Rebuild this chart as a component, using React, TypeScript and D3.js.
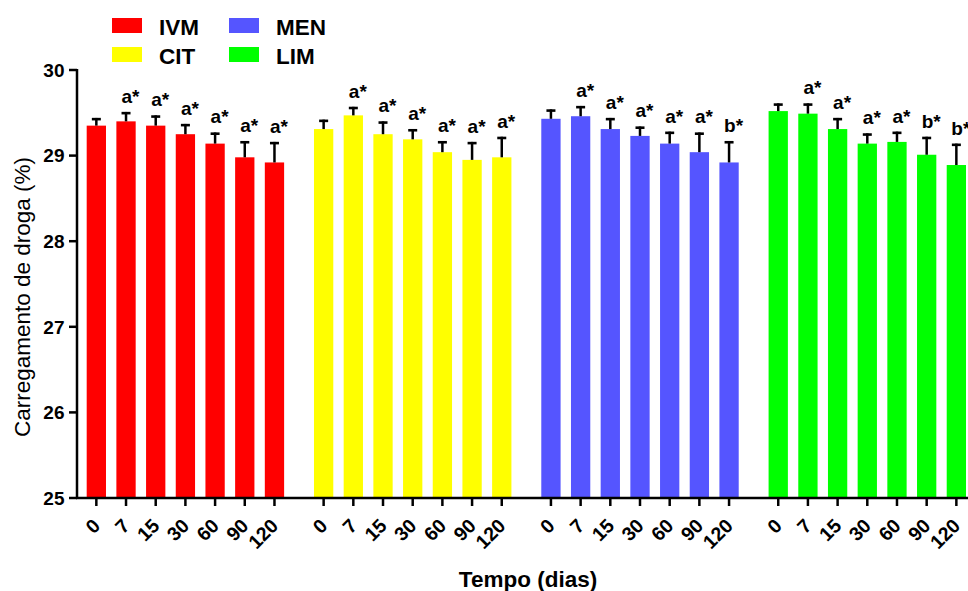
import React from "react";
import * as d3 from "d3";

const groups = ["IVM", "CIT", "MEN", "LIM"];
const days = ["0", "7", "15", "30", "60", "90", "120"];
const colors = ["#FF0000", "#FFFF00", "#5555FF", "#00FF00"];

const ivmMean = [29.35, 29.40, 29.35, 29.25, 29.14, 28.98, 28.92];
const ivmSd = [0.09, 0.11, 0.12, 0.12, 0.13, 0.19, 0.24];
const citMean = [29.31, 29.47, 29.25, 29.19, 29.04, 28.95, 28.98];
const citSd = [0.11, 0.10, 0.15, 0.12, 0.13, 0.21, 0.24];
const menMean = [29.43, 29.46, 29.31, 29.23, 29.14, 29.04, 28.92];
const menSd = [0.11, 0.12, 0.13, 0.11, 0.14, 0.23, 0.25];
const limMean = [29.52, 29.49, 29.31, 29.14, 29.16, 29.01, 28.89];
const limSd = [0.09, 0.12, 0.13, 0.12, 0.12, 0.21, 0.25];

const ivmLabels = ["", "a*", "a*", "a*", "a*", "a*", "a*"];
const citLabels = ["", "a*", "a*", "a*", "a*", "a*", "a*"];
const menLabels = ["", "a*", "a*", "a*", "a*", "a*", "b*"];
const limLabels = ["", "a*", "a*", "a*", "a*", "b*", "b*"];

const yTicks = [25, 26, 27, 28, 29, 30];

const means = [ivmMean, citMean, menMean, limMean];
const sds = [ivmSd, citSd, menSd, limSd];
const labels = [ivmLabels, citLabels, menLabels, limLabels];

const FONT = "'Liberation Sans', Arial, Helvetica, sans-serif";

export default function App() {
  const W = 968;
  const H = 591;
  const axisX = 77;
  const y = d3.scaleLinear().domain([25, 30]).range([498, 70]);
  const xGroup = d3
    .scaleBand<string>()
    .domain(groups)
    .range([76.3, 976.4])
    .paddingInner(0.04)
    .paddingOuter(0);
  const xDay = d3
    .scaleBand<string>()
    .domain(days)
    .range([0, xGroup.bandwidth()])
    .padding(0.35);
  const bw = xDay.bandwidth();
  const cx = (g: string, d: string) => (xGroup(g) as number) + (xDay(d) as number) + bw / 2;

  const legend = [
    { name: "IVM", color: colors[0], x: 112, y: 18 },
    { name: "CIT", color: colors[1], x: 112, y: 47 },
    { name: "MEN", color: colors[2], x: 229, y: 18 },
    { name: "LIM", color: colors[3], x: 229, y: 47 },
  ];

  return (
    <>
      <style>{`body{margin:0;}`}</style>
      <svg width={W} height={H} style={{ display: "block", fontFamily: FONT }}>
        <rect x={0} y={0} width={W} height={H} fill="#fff" />
        {/* bars */}
        {groups.map((g, gi) =>
          days.map((d, di) => {
            const x0 = (xGroup(g) as number) + (xDay(d) as number);
            const m = means[gi][di];
            return (
              <rect
                key={`b-${g}-${d}`}
                x={x0}
                y={y(m)}
                width={bw}
                height={y(25) - y(m)}
                fill={colors[gi]}
              />
            );
          })
        )}
        {/* error bars */}
        {groups.map((g, gi) =>
          days.map((d, di) => {
            const c = cx(g, d);
            const m = means[gi][di];
            const top = y(m + sds[gi][di]);
            return (
              <g key={`e-${g}-${d}`} stroke="#000">
                <line x1={c} x2={c} y1={y(m)} y2={top} strokeWidth={2.5} />
                <line x1={c - 4.5} x2={c + 4.5} y1={top + 1.2} y2={top + 1.2} strokeWidth={2.6} />
              </g>
            );
          })
        )}
        {/* significance labels */}
        {groups.map((g, gi) =>
          days.map((d, di) => {
            const lab = labels[gi][di];
            if (!lab) return null;
            const c = cx(g, d);
            const top = y(means[gi][di] + sds[gi][di]);
            return (
              <text
                key={`l-${g}-${d}`}
                x={c + 4.5}
                y={top - 9}
                textAnchor="middle"
                fontSize={19}
                fontWeight="bold"
                fill="#000"
              >
                {lab}
              </text>
            );
          })
        )}
        {/* y axis */}
        <line x1={axisX} x2={axisX} y1={y(30) - 1} y2={y(25) + 1} stroke="#000" strokeWidth={2.5} />
        {yTicks.map((t) => (
          <g key={`yt-${t}`}>
            <line x1={69} x2={axisX} y1={y(t)} y2={y(t)} stroke="#000" strokeWidth={2.5} />
            <text
              x={64.5}
              y={y(t)}
              dy="0.36em"
              textAnchor="end"
              fontSize={19}
              fontWeight="bold"
              fill="#000"
            >
              {t}
            </text>
          </g>
        ))}
        {/* x axis */}
        <line x1={axisX - 1} x2={W} y1={y(25)} y2={y(25)} stroke="#000" strokeWidth={2.5} />
        {groups.map((g) =>
          days.map((d) => {
            const c = cx(g, d);
            return (
              <g key={`xt-${g}-${d}`}>
                <line x1={c} x2={c} y1={y(25)} y2={y(25) + 8} stroke="#000" strokeWidth={2.5} />
                <text
                  transform={`translate(${c + 5},${527}) rotate(-45)`}
                  textAnchor="end"
                  fontSize={19.5}
                  fontWeight="bold"
                  fill="#000"
                >
                  {d}
                </text>
              </g>
            );
          })
        )}
        {/* axis titles */}
        <text
          transform={`translate(30,297) rotate(-90)`}
          textAnchor="middle"
          fontSize={22.5}
          fill="#000"
        >
          Carregamento de droga (%)
        </text>
        <text x={528} y={587} textAnchor="middle" fontSize={22.5} fontWeight="bold" fill="#000">
          Tempo (dias)
        </text>
        {/* legend */}
        {legend.map((l) => (
          <g key={`lg-${l.name}`}>
            <rect x={l.x} y={l.y} width={30} height={15} fill={l.color} />
            <text x={l.x + 47} y={l.y + 16.5} fontSize={22.5} fontWeight="bold" fill="#000">
              {l.name}
            </text>
          </g>
        ))}
      </svg>
    </>
  );
}
